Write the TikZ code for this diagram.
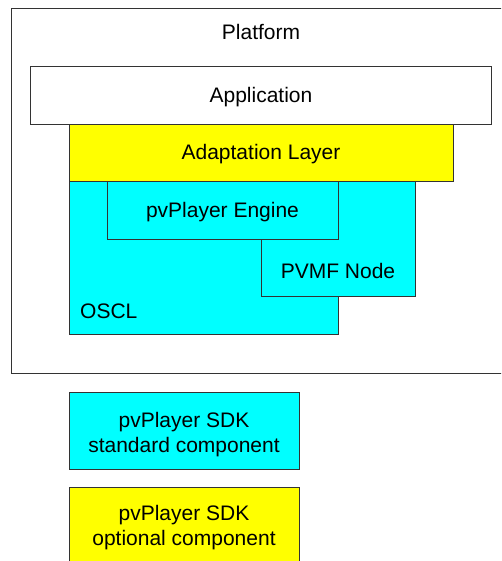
\documentclass[tikz,border=0pt]{standalone}
\usepackage{fontspec}
\setmainfont{Liberation Sans}
\definecolor{cyanbox}{RGB}{0,255,255}
\definecolor{yellowbox}{RGB}{255,255,0}
\definecolor{trait}{RGB}{51,51,51}
\tikzset{
    couche/.style={draw=trait, line width=0.9pt, inner sep=0pt, outer sep=0pt, anchor=north west},
    texte/.style={font=\fontsize{21}{25}\selectfont, inner sep=0pt, align=center}
}
\begin{document}
\begin{tikzpicture}[x=1pt, y=-1pt]

        % Le cadre de la page
        \useasboundingbox (0, 0) rectangle (501, 561);
        \clip (0, 0) rectangle (501, 561);

        % La plateforme et l'application
        \node[couche, fill=white, minimum width=500pt, minimum height=365pt] (platform) at (11, 8) {};
        \node[texte] (platformtxt) at (261, 32) {Platform};
        \node[couche, fill=white, minimum width=461pt, minimum height=58pt] (app) at (30.5, 66) {};
        \node[texte] (apptxt) at (261, 97) {Application};

        % Les couches du SDK
        \node[couche, fill=yellowbox, minimum width=384pt, minimum height=57pt] (adapt) at (69, 124) {};
        \node[texte] (adapttxt) at (261, 154.5) {Adaptation Layer};
        \node[couche, fill=cyanbox, minimum width=269pt, minimum height=153pt] (oscl) at (69, 181) {};
        \node[texte, anchor=west] (oscltxt) at (80, 311) {OSCL};
        \node[couche, fill=cyanbox, minimum width=154pt, minimum height=115pt] (pvmf) at (261, 181) {};
        \node[texte] (pvmftxt) at (338, 271) {PVMF Node};
        \node[couche, fill=cyanbox, minimum width=231pt, minimum height=58pt] (engine) at (107, 181) {};
        \node[texte] (enginetxt) at (222.5, 212) {pvPlayer Engine};

        % La légende
        \node[couche, fill=cyanbox, minimum width=230pt, minimum height=77pt] (standard) at (69, 392) {};
        \node[texte] (standardtxt) at (184, 434.5) {pvPlayer SDK\\standard component};
        \node[couche, fill=yellowbox, minimum width=230pt, minimum height=77pt] (optional) at (69, 487) {};
        \node[texte] (optionaltxt) at (184, 528) {pvPlayer SDK\\optional component};

    \end{tikzpicture}
\end{document}
